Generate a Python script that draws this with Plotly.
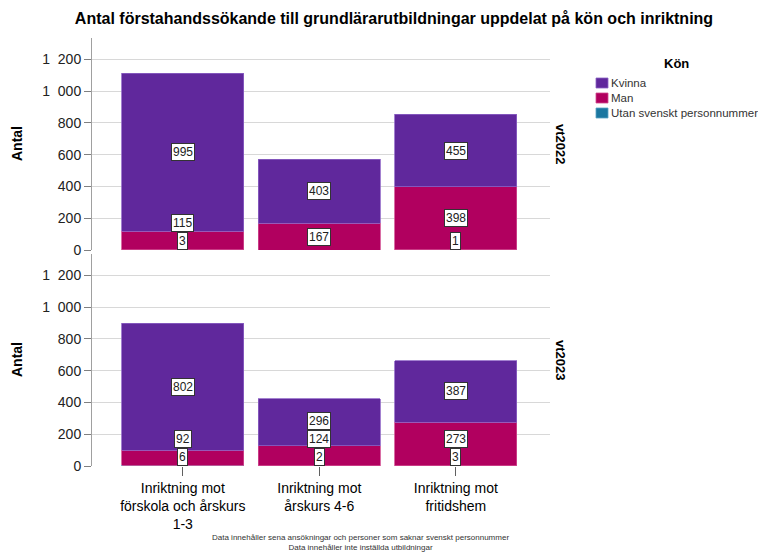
import plotly.graph_objects as go

# ---- data ----
categories = ["Inriktning mot förskola och årskurs 1-3",
              "Inriktning mot årskurs 4-6",
              "Inriktning mot fritidshem"]
tick_labels = ["Inriktning mot<br>förskola och årskurs<br>1-3",
               "Inriktning mot<br>årskurs 4-6",
               "Inriktning mot<br>fritidshem"]
terms = ["vt2022", "vt2023"]
kvinna_2022 = [995, 403, 455]
man_2022 = [115, 167, 398]
utan_2022 = [3, 0, 1]
kvinna_2023 = [802, 296, 387]
man_2023 = [92, 124, 273]
utan_2023 = [6, 2, 3]
series_names = ["Utan svenskt personnummer", "Man", "Kvinna"]
legend_order = ["Kvinna", "Man", "Utan svenskt personnummer"]
y_ticks = [0, 200, 400, 600, 800, 1000, 1200]

data = {
    "vt2022": [utan_2022, man_2022, kvinna_2022],
    "vt2023": [utan_2023, man_2023, kvinna_2023],
}
colors = {"Kvinna": "#60289c", "Man": "#b1005f", "Utan svenskt personnummer": "#1b77a0"}
edge = {"Kvinna": "#8c62c4", "Man": "#d04a8e", "Utan svenskt personnummer": "#5aa2c4"}

FONT = "Arial, Liberation Sans, sans-serif"
W, H = 758, 555
ML, MR, MT, MB = 92, 208, 38, 89
PW, PH = W - ML - MR, H - MT - MB
YMAX = 1335


def px_x(x):
    return (x - ML) / PW


def px_y(y):
    return (H - MB - y) / PH


dom_top = [px_y(250), 1.0]
dom_bot = [0.0, px_y(254)]
panel_px = (dom_top[1] - dom_top[0]) * PH
scale = panel_px / YMAX

fig = go.Figure()
x_idx = list(range(len(categories)))
for ti, term in enumerate(terms):
    yax = "y" if ti == 0 else "y2"
    xax = "x" if ti == 0 else "x2"
    for si, name in enumerate(series_names):
        fig.add_trace(go.Bar(
            x=x_idx, y=data[term][si], name=name,
            marker=dict(color=colors[name], line=dict(color=edge[name], width=0.8)),
            xaxis=xax, yaxis=yax, showlegend=False,
            hoverinfo="skip",
        ))
    # value labels
    for ci in x_idx:
        cum = 0
        prev_top = 0
        for si in range(len(series_names)):
            v = data[term][si][ci]
            if v <= 0:
                continue
            mid = cum + v / 2
            c_px = mid * scale
            y_px = max(c_px, prev_top + 9)
            prev_top = y_px + 9
            fig.add_annotation(
                x=ci, y=mid, xref=xax, yref=yax, text=str(v), showarrow=False,
                xanchor="center", yanchor="middle",
                yshift=y_px - c_px, bgcolor="white", bordercolor="#333333",
                borderwidth=1, borderpad=1,
                font=dict(family=FONT, size=12, color="#222222"),
            )
            cum += v

axis_common = dict(range=[0, YMAX], tickvals=y_ticks, showgrid=True,
                   gridcolor="#d8d8d8", gridwidth=1, showline=True,
                   linecolor="#a0a0a0", ticks="outside", ticklen=7,
                   tickcolor="#808080", zeroline=False, automargin=False,
                   separatethousands=True,
                   tickfont=dict(family=FONT, size=14, color="#222222"))
fig.update_layout(
    width=W, height=H,
    margin=dict(l=ML, r=MR, t=MT, b=MB, autoexpand=False),
    paper_bgcolor="white", plot_bgcolor="white",
    barmode="stack", bargap=0.105,
    separators=",\u2007",
    showlegend=False,
    font=dict(family=FONT, color="#222222"),
    title=dict(text="<b>Antal förstahandssökande till grundlärarutbildningar uppdelat på kön och inriktning</b>",
               x=394 / W, xanchor="center", xref="container",
               y=1 - 18 / H, yanchor="middle", yref="container",
               font=dict(family=FONT, size=16, color="black"), automargin=False),
    xaxis=dict(domain=[0, 1], range=[-0.665, 2.69], showticklabels=False, ticks="",
               showgrid=False, zeroline=False, showline=False, anchor="y", automargin=False),
    xaxis2=dict(domain=[0, 1], range=[-0.665, 2.69], tickvals=x_idx, ticktext=tick_labels,
                ticks="outside", ticklen=9, tickcolor="#606060", showgrid=False,
                zeroline=False, showline=False, anchor="y2", automargin=False,
                tickfont=dict(family=FONT, size=14, color="black")),
    yaxis=dict(domain=dom_top, anchor="x", **axis_common),
    yaxis2=dict(domain=dom_bot, anchor="x2", **axis_common),
)

# y-axis titles and facet labels
for ti, term in enumerate(terms):
    dom = dom_top if ti == 0 else dom_bot
    mid = (dom[0] + dom[1]) / 2
    fig.add_annotation(x=px_x(17), y=mid, xref="paper", yref="paper",
                       xanchor="center", yanchor="middle",
                       text="<b>Antal</b>", textangle=-90, showarrow=False,
                       font=dict(family=FONT, size=14, color="black"))
    fig.add_annotation(x=px_x(561), y=mid, xref="paper", yref="paper",
                       xanchor="center", yanchor="middle",
                       text=f"<b>{term}</b>", textangle=90, showarrow=False,
                       font=dict(family=FONT, size=13, color="black"))

# legend (drawn manually to match layout)
fig.add_annotation(x=px_x(676), y=px_y(63), xref="paper", yref="paper",
                   xanchor="center", yanchor="middle",
                   text="<b>Kön</b>", showarrow=False,
                   font=dict(family=FONT, size=13, color="black"))
for li, name in enumerate(legend_order):
    yc = 83 + li * 15
    fig.add_shape(type="rect", xref="paper", yref="paper",
                  x0=px_x(596), x1=px_x(608), y0=px_y(yc + 5), y1=px_y(yc - 5),
                  fillcolor=colors[name], line=dict(color=edge[name], width=0.8))
    fig.add_annotation(x=px_x(609), y=px_y(yc), xref="paper", yref="paper",
                       text=name, showarrow=False, xanchor="left", yanchor="middle",
                       font=dict(family=FONT, size=11.5, color="#333333"))

# footer
fig.add_annotation(x=px_x(360), y=px_y(531), xref="paper", yref="paper",
                   xanchor="center",
                   text="Data innehåller sena ansökningar och personer som saknar svenskt personnummer<br>Data innehåller inte inställda utbildningar",
                   showarrow=False, yanchor="top", align="center",
                   font=dict(family=FONT, size=8, color="#333333"))

fig.write_html("out.html", config={"displayModeBar": False},
               post_script="document.body.style.margin='0';")
